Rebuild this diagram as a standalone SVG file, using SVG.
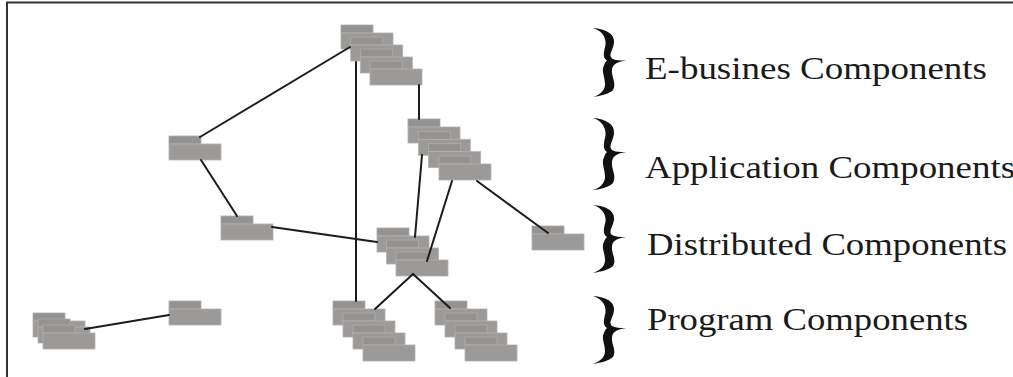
<svg xmlns="http://www.w3.org/2000/svg" xmlns:xlink="http://www.w3.org/1999/xlink" width="1013" height="377" viewBox="0 0 1013 377">
<style>
.tab{fill:#959391;stroke:#aeacaa;stroke-width:0.8}
.body{fill:#9c9a98;stroke:#b3b1af;stroke-width:0.8}
.con line{stroke:#1c1c1c;stroke-width:2;stroke-linecap:round}
.lbl{font-family:"Liberation Serif","Times New Roman",serif;font-size:32px;fill:#1a1a1a}
.brace{fill:#111}
</style>
<defs>
<g id="comp"><rect class="tab" x="0" y="0" width="32" height="8"/><rect class="body" x="0" y="8" width="52" height="16"/></g>
<path id="br" d="M0,0 C13,1 22,6 21,15 C20,23 15,27 19,31 C22,33 27,33 33,33 C26,34 20,36 19,42 C18,50 24,56 20,63 C16,67 8,69 0,70 C6,68 12,64 12,57 C12,49 8,44 11,38 C12,35 13,34 14,33 C9,30 11,24 12.5,17 C13.5,8 7,2 0,0 Z"/>
</defs>
<rect width="1013" height="377" fill="#fff"/>
<g id="frame"><line x1="7" y1="2.5" x2="7" y2="377" stroke="#333" stroke-width="2"/><line x1="6" y1="2.5" x2="1013" y2="2.5" stroke="#333" stroke-width="2"/></g>
<g id="n-ebiz"><use href="#comp" x="341" y="25"/><use href="#comp" x="350.7" y="37"/><use href="#comp" x="360.3" y="49"/><use href="#comp" x="370" y="61"/></g>
<g id="n-app"><use href="#comp" x="408" y="119"/><use href="#comp" x="418.3" y="131.3"/><use href="#comp" x="428.6" y="143.6"/><use href="#comp" x="439" y="156"/></g>
<g id="n-dist"><use href="#comp" x="377" y="228"/><use href="#comp" x="386.5" y="240"/><use href="#comp" x="396" y="252"/></g>
<g id="n-prog1"><use href="#comp" x="333" y="301"/><use href="#comp" x="343" y="313"/><use href="#comp" x="353" y="325"/><use href="#comp" x="363" y="337"/></g>
<g id="n-prog2"><use href="#comp" x="435" y="301"/><use href="#comp" x="445" y="313"/><use href="#comp" x="455" y="325"/><use href="#comp" x="465" y="337"/></g>
<g id="n-a"><use href="#comp" x="169" y="136"/></g>
<g id="n-b"><use href="#comp" x="221" y="216"/></g>
<g id="n-c"><use href="#comp" x="532" y="226"/></g>
<g id="n-d"><use href="#comp" x="169" y="301"/></g>
<g id="n-e"><use href="#comp" x="33" y="313"/><use href="#comp" x="38" y="319"/><use href="#comp" x="43" y="325"/></g>
<g id="connectors" class="con">
<line x1="200" y1="137" x2="350" y2="47"/>
<line x1="201" y1="160" x2="237" y2="216"/>
<line x1="272" y1="227" x2="377" y2="242"/>
<line x1="356" y1="62" x2="356" y2="301"/>
<line x1="419" y1="85" x2="419" y2="119"/>
<line x1="422" y1="155" x2="415" y2="237"/>
<line x1="452" y1="181" x2="427" y2="261"/>
<line x1="477" y1="181" x2="548" y2="233"/>
<line x1="413" y1="274" x2="375" y2="309"/>
<line x1="413" y1="274" x2="450" y2="308"/>
<line x1="85" y1="329" x2="169" y2="315"/>
</g>
<g id="labels">
<use href="#br" class="brace" transform="translate(593,28) scale(1,0.985)"/>
<text class="lbl" x="645" y="79" textLength="342" lengthAdjust="spacingAndGlyphs">E-busines Components</text>
<use href="#br" class="brace" transform="translate(593,118) scale(1,1.03)"/>
<text class="lbl" x="645" y="178" textLength="370" lengthAdjust="spacingAndGlyphs">Application Components</text>
<use href="#br" class="brace" transform="translate(593,205) scale(1,0.97)"/>
<text class="lbl" x="647" y="255" textLength="360" lengthAdjust="spacingAndGlyphs">Distributed Components</text>
<use href="#br" class="brace" transform="translate(593,296) scale(1,0.97)"/>
<text class="lbl" x="647" y="330" textLength="321" lengthAdjust="spacingAndGlyphs">Program Components</text>
</g>
</svg>
